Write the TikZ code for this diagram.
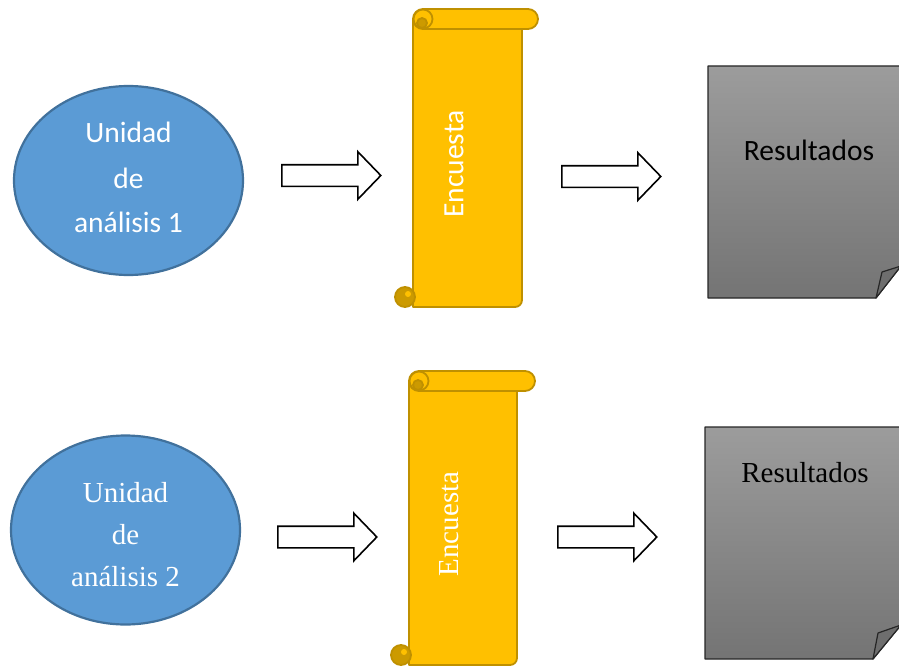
\documentclass[tikz,border=0pt]{standalone}
\usepackage{fontspec}
\usetikzlibrary{shapes.arrows,shapes.geometric}
\newfontfamily\calfont{Carlito}
\newfontfamily\tnrfont{Liberation Serif}
\definecolor{ellfill}{HTML}{5B9BD5}
\definecolor{elldraw}{HTML}{41719C}
\definecolor{scrfill}{HTML}{FFC000}
\definecolor{scrdraw}{HTML}{BF9000}
\definecolor{scrdark}{HTML}{CC9A00}
\definecolor{doctop}{HTML}{9C9C9C}
\definecolor{docbot}{HTML}{747474}
\definecolor{flapcol}{HTML}{6E6E6E}
\tikzset{
  unitell/.style={ellipse, fill=ellfill, draw=elldraw, line width=2.2pt,
    minimum width=229pt, minimum height=189pt, inner sep=0pt},
  blockarrow/.style={single arrow, draw=black, fill=white, line width=1.6pt,
    minimum height=99pt, text height=0pt, text depth=0pt, text width=0pt,
    inner xsep=0pt, inner ysep=10pt, single arrow head extend=13pt,
    single arrow tip angle=92, anchor=tail},
  scrollpart/.style={fill=scrfill, draw=scrdraw, line width=1.8pt, line join=round},
  curlpart/.style={fill=scrdark, draw=scrdraw, line width=1.8pt},
  docpage/.style={draw=black!85, line width=1.2pt, top color=doctop, bottom color=docbot, line join=round},
  docflap/.style={draw=black!85, line width=1.2pt, fill=flapcol, line join=round},
  caltext/.style={font=\calfont\fontsize{29.5}{45}\selectfont},
  tnrtext/.style={font=\tnrfont\fontsize{29}{42}\selectfont},
}
% scroll: #1 left, #2 top, #3 right, #4 bottom, #5 roll right
\newcommand\drawscroll[5]{%
  \path[scrollpart] ({#1},{#2+10}) -- ({#1},{#4})
     {[rounded corners=7pt] -- ({#3},{#4}) -- ({#3},{#2+10})} -- cycle;
  \path[scrollpart, rounded corners=10pt] ({#1},{#2}) rectangle ({#5},{#2+20});
  \path[scrollpart] ({#1+10},{#2+10}) circle (9.5pt);
  \path[curlpart] ({#1+9},{#2+14}) circle (5pt);
  \path[curlpart] ({#1-8},{#4-10}) circle (10pt);
  \path[fill=scrfill] ({#1-5},{#4-13}) circle (3pt);
}
\begin{document}
\begin{tikzpicture}[x=1pt,y=-1pt]
\useasboundingbox (0,0) rectangle (899,666);
\begin{scope}
\clip (0,0) rectangle (899,666);

% ---------- top row ----------
\node[unitell] (u1) at (128.5,180.5) {};
\node[caltext, text=white] (u1a) at (128.5,132) {Unidad};
\node[caltext, text=white] (u1b) at (128.5,178) {de};
\node[caltext, text=white] (u1c) at (128.5,222) {análisis 1};

\node[blockarrow] (a1) at (281,175.5) {};

\drawscroll{413}{9}{522}{307}{538}
\node[caltext, text=white, rotate=90] (e1) at (454,164) {Encuesta};

\node[blockarrow] (a2) at (561,176.5) {};

\path[docpage] (708,66) -- (901,66) -- (901,266) -- (876,298) -- (708,298) -- cycle;
\path[docflap] (876,298) -- (882,272) -- (901,266) -- cycle;
\node[caltext] (r1) at (809,150) {Resultados};

% ---------- bottom row ----------
\node[unitell] (u2) at (125.5,530) {};
\node[tnrtext, text=white] (u2a) at (125.5,493) {Unidad};
\node[tnrtext, text=white] (u2b) at (125.5,535) {de};
\node[tnrtext, text=white] (u2c) at (125.5,577) {análisis 2};

\node[blockarrow] (a3) at (277,537) {};

\drawscroll{409}{371}{517}{665}{535}
\node[tnrtext, text=white, rotate=90] (e2) at (449,524) {Encuesta};

\node[blockarrow] (a4) at (557,537) {};

\path[docpage] (705,427) -- (901,427) -- (901,625) -- (873,659) -- (705,659) -- cycle;
\path[docflap] (873,659) -- (878,633) -- (901,625) -- cycle;
\node[tnrtext] (r2) at (805,473) {Resultados};
\end{scope}
\end{tikzpicture}
\end{document}
